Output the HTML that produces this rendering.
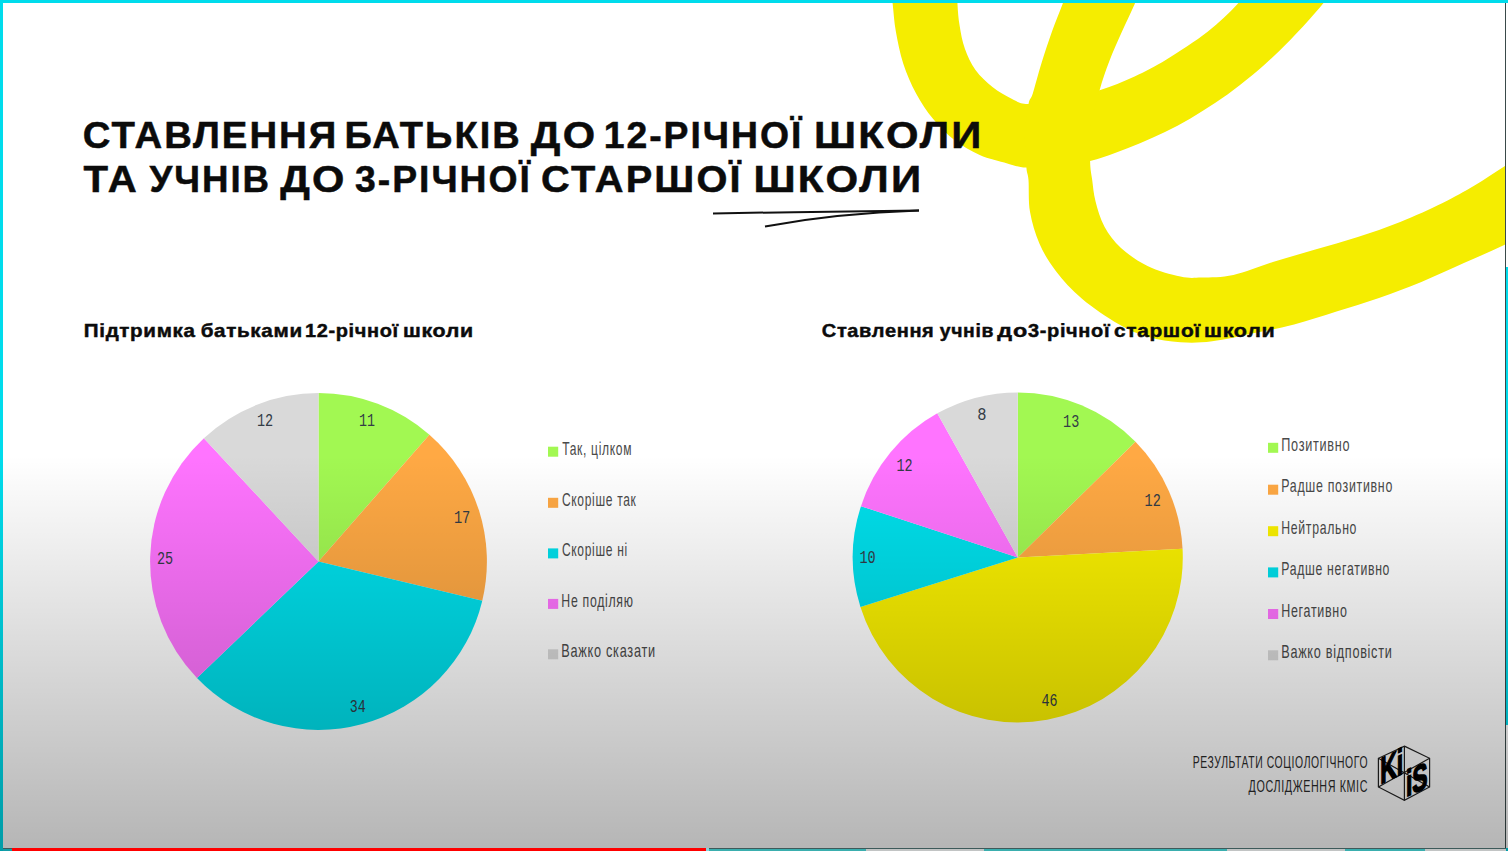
<!DOCTYPE html>
<html><head><meta charset="utf-8">
<style>
html,body{margin:0;padding:0;width:1508px;height:851px;overflow:hidden;background:#00dcec;position:relative;font-family:"Liberation Sans",sans-serif;}
#slide{position:absolute;left:3px;top:3px;width:1502px;height:845px;background:#fff;overflow:hidden;}
svg{position:absolute;left:0;top:0;}
#overlay{position:absolute;left:0;top:0;width:1508px;height:851px;background:linear-gradient(to bottom, rgba(0,0,0,0) 0px, rgba(0,0,0,0) 455px, rgba(0,0,0,0.29) 851px);}
.bar{position:absolute;top:848px;height:3px;}
</style></head><body>
<div id="slide">
<svg width="1508" height="851" viewBox="3 3 1508 851" style="left:0;top:0">
<path d="M888.0,-60.0 C876.8,-53.3 889.2,-30.7 890.0,-20.0 C890.8,-9.3 891.7,-4.4 892.7,4.2 C893.7,12.8 894.1,21.9 895.9,31.8 C897.7,41.7 899.9,53.4 903.3,63.7 C906.7,74.0 911.1,84.2 916.1,93.4 C921.1,102.6 926.6,111.0 933.0,118.8 C939.4,126.6 946.5,134.0 954.3,140.0 C962.1,146.0 970.9,151.1 979.7,155.0 C988.5,158.9 999.5,161.3 1007.3,163.4 C1015.1,165.5 1018.0,167.2 1026.4,167.6 C1034.9,168.0 1047.4,167.1 1058.0,166.0 C1068.6,164.9 1080.6,163.2 1090.1,161.0 C1099.6,158.8 1106.7,155.8 1115.0,152.9 C1123.3,150.0 1131.7,146.8 1140.0,143.3 C1148.3,139.8 1156.7,136.1 1165.0,132.0 C1173.3,127.9 1181.7,123.5 1190.0,118.7 C1198.3,113.9 1206.7,108.7 1215.0,103.1 C1223.3,97.5 1231.7,91.5 1240.0,85.0 C1248.3,78.5 1256.7,71.7 1265.0,64.2 C1273.3,56.7 1281.7,48.7 1290.0,40.2 C1298.3,31.7 1307.5,21.6 1315.0,13.0 C1322.5,4.4 1328.3,-2.6 1335.0,-11.4 C1341.7,-20.2 1349.2,-31.9 1355.0,-40.0 C1360.8,-48.1 1382.5,-56.7 1370.0,-60.0 C1357.5,-63.3 1299.0,-66.7 1280.0,-60.0 C1261.0,-53.3 1263.1,-30.7 1256.0,-20.0 C1248.9,-9.3 1245.4,-4.4 1237.3,4.2 C1229.2,12.8 1219.4,22.6 1207.6,31.8 C1195.8,41.0 1178.7,52.0 1166.5,59.4 C1154.3,66.8 1145.8,71.3 1134.6,76.4 C1123.4,81.5 1111.4,86.6 1099.6,90.2 C1087.8,93.8 1075.8,95.7 1064.0,98.0 C1052.2,100.3 1037.2,103.9 1028.5,104.0 C1019.8,104.1 1017.6,101.5 1011.6,98.7 C1005.6,95.9 998.5,91.8 992.5,87.0 C986.5,82.2 980.1,76.4 975.5,70.0 C970.9,63.6 967.5,56.2 964.9,48.8 C962.2,41.4 960.8,32.9 959.6,25.5 C958.4,18.1 957.9,11.8 957.5,4.2 C957.1,-3.4 957.1,-9.3 957.0,-20.0 C956.9,-30.7 968.5,-53.3 957.0,-60.0 C945.5,-66.7 899.2,-66.7 888.0,-60.0 Z" fill="#f5ed00"/>
<path d="M1085.0,-60.0 C1070.2,-53.3 1074.8,-30.7 1071.0,-20.0 C1067.2,-9.3 1065.7,-4.4 1062.5,4.2 C1059.3,12.8 1055.4,21.9 1051.9,31.8 C1048.4,41.7 1044.5,53.4 1041.3,63.7 C1038.1,74.0 1034.9,86.7 1032.8,93.4 C1030.7,100.1 1029.8,97.1 1028.5,104.0 C1027.2,110.9 1025.3,124.4 1025.0,135.0 C1024.7,145.6 1025.8,160.1 1026.4,167.6 C1027.0,175.1 1027.9,172.6 1028.5,180.0 C1029.1,187.4 1028.2,201.2 1030.0,211.8 C1031.8,222.4 1035.2,233.8 1039.5,243.7 C1043.8,253.6 1048.9,262.0 1056.0,271.2 C1063.1,280.4 1071.5,289.9 1082.0,298.8 C1092.5,307.7 1107.7,317.9 1118.8,324.3 C1129.9,330.7 1138.2,334.0 1148.5,337.0 C1158.8,340.0 1169.8,341.6 1180.4,342.3 C1191.0,343.0 1199.8,342.9 1212.2,341.3 C1224.6,339.8 1240.9,335.8 1254.6,333.0 C1268.2,330.2 1280.4,328.1 1294.1,324.5 C1307.8,320.9 1322.3,315.9 1336.5,311.5 C1350.7,307.1 1364.8,302.9 1379.0,298.0 C1393.2,293.1 1407.2,287.8 1421.4,282.0 C1435.6,276.2 1450.1,269.3 1463.9,263.1 C1477.7,256.9 1491.5,251.2 1504.2,245.0 C1516.9,238.8 1527.4,233.5 1540.0,226.0 C1552.6,218.5 1573.3,218.0 1580.0,200.0 C1586.7,182.0 1586.7,127.2 1580.0,118.0 C1573.3,108.8 1552.6,136.9 1540.0,145.0 C1527.4,153.1 1515.1,159.7 1504.2,166.5 C1493.3,173.3 1484.8,179.5 1474.5,185.6 C1464.2,191.7 1455.0,196.9 1442.6,203.0 C1430.2,209.1 1414.3,216.3 1400.2,222.0 C1386.1,227.7 1372.0,232.4 1357.8,237.0 C1343.6,241.6 1329.4,245.3 1315.3,249.5 C1301.2,253.7 1286.6,257.8 1272.9,262.0 C1259.2,266.2 1245.3,272.4 1233.4,275.0 C1221.5,277.6 1210.4,277.3 1201.6,277.6 C1192.8,277.9 1189.4,278.5 1180.4,276.6 C1171.4,274.7 1157.4,270.8 1147.5,266.0 C1137.6,261.2 1128.2,254.5 1121.0,247.9 C1113.8,241.3 1108.8,234.5 1104.5,226.7 C1100.2,218.9 1097.5,209.0 1095.5,201.2 C1093.5,193.4 1093.1,186.7 1092.2,180.0 C1091.3,173.3 1090.3,170.5 1090.1,161.3 C1089.9,152.1 1089.4,136.8 1091.0,125.0 C1092.6,113.2 1096.6,100.8 1099.6,90.2 C1102.6,79.6 1105.5,71.2 1109.2,61.5 C1112.9,51.8 1117.7,41.4 1121.9,31.8 C1126.1,22.2 1130.9,12.8 1134.6,4.2 C1138.3,-4.4 1139.8,-9.3 1144.0,-20.0 C1148.2,-30.7 1169.8,-53.3 1160.0,-60.0 C1150.2,-66.7 1099.8,-66.7 1085.0,-60.0 Z" fill="#f5ed00"/>
</svg>
</div>
<svg width="1508" height="851" font-family="Liberation Sans">
<path d="M713,213.4 C780,212.3 860,211.2 919,210.6" stroke="#111" stroke-width="2" fill="none"/>
<path d="M765,226.4 C820,216.5 870,212.2 919,210.6" stroke="#111" stroke-width="2" fill="none"/>
<path d="M318.50,561.50 L318.50,393.10 A168.40,168.40 0 0 1 429.42,434.79 Z" fill="#a2f852"/>
<path d="M318.50,561.50 L429.42,434.79 A168.40,168.40 0 0 1 482.28,600.67 Z" fill="#ffa944"/>
<path d="M318.50,561.50 L482.28,600.67 A168.40,168.40 0 0 1 196.96,678.06 Z" fill="#00e0ec"/>
<path d="M318.50,561.50 L196.96,678.06 A168.40,168.40 0 0 1 203.87,438.14 Z" fill="#ff74ff"/>
<path d="M318.50,561.50 L203.87,438.14 A168.40,168.40 0 0 1 318.50,393.10 Z" fill="#d9d9d9"/>
<path d="M1017.80,557.40 L1017.80,392.40 A165.00,165.00 0 0 1 1135.49,441.75 Z" fill="#a2f852"/>
<path d="M1017.80,557.40 L1135.49,441.75 A165.00,165.00 0 0 1 1182.57,548.76 Z" fill="#ffa944"/>
<path d="M1017.80,557.40 L1182.57,548.76 A165.00,165.00 0 0 1 860.44,607.02 Z" fill="#faf100"/>
<path d="M1017.80,557.40 L860.44,607.02 A165.00,165.00 0 0 1 860.96,506.14 Z" fill="#00e0ec"/>
<path d="M1017.80,557.40 L860.96,506.14 A165.00,165.00 0 0 1 937.30,413.37 Z" fill="#ff74ff"/>
<path d="M1017.80,557.40 L937.30,413.37 A165.00,165.00 0 0 1 1017.80,392.40 Z" fill="#d9d9d9"/>
<rect x="548.0" y="446.7" width="10.2" height="10" fill="#a2f852"/>
<rect x="548.0" y="497.8" width="10.2" height="10" fill="#ffa944"/>
<rect x="548.0" y="548.4" width="10.2" height="10" fill="#00e0ec"/>
<rect x="548.0" y="598.9" width="10.2" height="10" fill="#ff74ff"/>
<rect x="548.0" y="649.3" width="10.2" height="10" fill="#d9d9d9"/>
<rect x="1268.0" y="442.8" width="10.2" height="10" fill="#a2f852"/>
<rect x="1268.0" y="484.7" width="10.2" height="10" fill="#ffa944"/>
<rect x="1268.0" y="526.2" width="10.2" height="10" fill="#faf100"/>
<rect x="1268.0" y="567.4" width="10.2" height="10" fill="#00e0ec"/>
<rect x="1268.0" y="609.0" width="10.2" height="10" fill="#ff74ff"/>
<rect x="1268.0" y="650.3" width="10.2" height="10" fill="#d9d9d9"/>
<g stroke="#222" stroke-width="1.2" fill="none">
<path d="M1404.4,746.1 L1429.6,758.3 L1429.6,787 L1404.4,800.4 L1378.4,787 L1378.4,758.3 Z"/>
<path d="M1404.4,746.1 L1404.4,800.4 M1378.4,758.3 L1429.6,787 M1429.6,758.3 L1378.4,787"/>
</g>
<g transform="translate(1378.4,787) skewY(-25) translate(1.9,-1.8) scale(0.62,1)"><text font-weight="bold" font-size="37" fill="#000" stroke="#000" stroke-width="1.6">Ki</text></g>
<g transform="translate(1404.4,800.4) skewY(-25) translate(1.5,-2.6) scale(0.62,1)"><text font-weight="bold" font-size="37" fill="#000" stroke="#000" stroke-width="1.6">iS</text></g>
<text transform="translate(82.78,147.80) scale(1.0136,1)" font-family="Liberation Sans" font-weight="bold" font-size="37.8" letter-spacing="2.0" fill="#0b0b0b" stroke="#0b0b0b" stroke-width="0.5">СТАВЛЕННЯ</text>
<text transform="translate(344.39,147.80) scale(1.0059,1)" font-family="Liberation Sans" font-weight="bold" font-size="37.8" letter-spacing="2.0" fill="#0b0b0b" stroke="#0b0b0b" stroke-width="0.5">БАТЬКІВ</text>
<text transform="translate(530.82,147.80) scale(1.1009,1)" font-family="Liberation Sans" font-weight="bold" font-size="37.8" letter-spacing="2.0" fill="#0b0b0b" stroke="#0b0b0b" stroke-width="0.5">ДО</text>
<text transform="translate(603.67,147.80) scale(0.9889,1)" font-family="Liberation Sans" font-weight="bold" font-size="37.8" letter-spacing="2.0" fill="#0b0b0b" stroke="#0b0b0b" stroke-width="0.5">12-РІЧНОЇ</text>
<text transform="translate(814.03,147.80) scale(1.1063,1)" font-family="Liberation Sans" font-weight="bold" font-size="37.8" letter-spacing="2.0" fill="#0b0b0b" stroke="#0b0b0b" stroke-width="0.5">ШКОЛИ</text>
<text transform="translate(83.57,191.50) scale(1.0639,1)" font-family="Liberation Sans" font-weight="bold" font-size="37.8" letter-spacing="2.0" fill="#0b0b0b" stroke="#0b0b0b" stroke-width="0.5">ТА</text>
<text transform="translate(149.60,191.50) scale(0.9704,1)" font-family="Liberation Sans" font-weight="bold" font-size="37.8" letter-spacing="2.0" fill="#0b0b0b" stroke="#0b0b0b" stroke-width="0.5">УЧНІВ</text>
<text transform="translate(280.22,191.50) scale(1.1009,1)" font-family="Liberation Sans" font-weight="bold" font-size="37.8" letter-spacing="2.0" fill="#0b0b0b" stroke="#0b0b0b" stroke-width="0.5">ДО</text>
<text transform="translate(355.06,191.50) scale(0.9876,1)" font-family="Liberation Sans" font-weight="bold" font-size="37.8" letter-spacing="2.0" fill="#0b0b0b" stroke="#0b0b0b" stroke-width="0.5">3-РІЧНОЇ</text>
<text transform="translate(541.12,191.50) scale(1.0527,1)" font-family="Liberation Sans" font-weight="bold" font-size="37.8" letter-spacing="2.0" fill="#0b0b0b" stroke="#0b0b0b" stroke-width="0.5">СТАРШОЇ</text>
<text transform="translate(753.43,191.50) scale(1.1097,1)" font-family="Liberation Sans" font-weight="bold" font-size="37.8" letter-spacing="2.0" fill="#0b0b0b" stroke="#0b0b0b" stroke-width="0.5">ШКОЛИ</text>
<text transform="translate(83.82,336.80) scale(1.1063,1)" font-family="Liberation Sans" font-weight="bold" font-size="18.6" letter-spacing="0.6" fill="#0b0b0b" stroke="#0b0b0b" stroke-width="0.45">Підтримка</text>
<text transform="translate(200.67,336.80) scale(1.1104,1)" font-family="Liberation Sans" font-weight="bold" font-size="18.6" letter-spacing="0.6" fill="#0b0b0b" stroke="#0b0b0b" stroke-width="0.45">батьками</text>
<text transform="translate(304.96,336.80) scale(1.0744,1)" font-family="Liberation Sans" font-weight="bold" font-size="18.6" letter-spacing="0.6" fill="#0b0b0b" stroke="#0b0b0b" stroke-width="0.45">12-річної</text>
<text transform="translate(402.96,336.80) scale(1.1504,1)" font-family="Liberation Sans" font-weight="bold" font-size="18.6" letter-spacing="0.6" fill="#0b0b0b" stroke="#0b0b0b" stroke-width="0.45">школи</text>
<text transform="translate(821.79,336.80) scale(1.0765,1)" font-family="Liberation Sans" font-weight="bold" font-size="18.6" letter-spacing="0.6" fill="#0b0b0b" stroke="#0b0b0b" stroke-width="0.45">Ставлення</text>
<text transform="translate(939.74,336.80) scale(1.0436,1)" font-family="Liberation Sans" font-weight="bold" font-size="18.6" letter-spacing="0.6" fill="#0b0b0b" stroke="#0b0b0b" stroke-width="0.45">учнів</text>
<text transform="translate(997.30,336.80) scale(1.2565,1)" font-family="Liberation Sans" font-weight="bold" font-size="18.6" letter-spacing="0.6" fill="#0b0b0b" stroke="#0b0b0b" stroke-width="0.45">до</text>
<text transform="translate(1027.96,336.80) scale(1.0759,1)" font-family="Liberation Sans" font-weight="bold" font-size="18.6" letter-spacing="0.6" fill="#0b0b0b" stroke="#0b0b0b" stroke-width="0.45">3-річної</text>
<text transform="translate(1113.96,336.80) scale(1.1229,1)" font-family="Liberation Sans" font-weight="bold" font-size="18.6" letter-spacing="0.6" fill="#0b0b0b" stroke="#0b0b0b" stroke-width="0.45">старшої</text>
<text transform="translate(1204.05,336.80) scale(1.1573,1)" font-family="Liberation Sans" font-weight="bold" font-size="18.6" letter-spacing="0.6" fill="#0b0b0b" stroke="#0b0b0b" stroke-width="0.45">школи</text>
<text transform="translate(562.23,454.70) scale(0.6813,1)" font-family="Liberation Sans" font-weight="normal" font-size="17.7" letter-spacing="1.0" fill="#4a4a4a">Так, цілком</text>
<text transform="translate(561.89,505.50) scale(0.6806,1)" font-family="Liberation Sans" font-weight="normal" font-size="17.7" letter-spacing="1.0" fill="#4a4a4a">Скоріше так</text>
<text transform="translate(561.89,555.60) scale(0.6798,1)" font-family="Liberation Sans" font-weight="normal" font-size="17.7" letter-spacing="1.0" fill="#4a4a4a">Скоріше ні</text>
<text transform="translate(561.36,606.80) scale(0.6948,1)" font-family="Liberation Sans" font-weight="normal" font-size="17.7" letter-spacing="1.0" fill="#4a4a4a">Не поділяю</text>
<text transform="translate(561.32,657.20) scale(0.7194,1)" font-family="Liberation Sans" font-weight="normal" font-size="17.7" letter-spacing="1.0" fill="#4a4a4a">Важко сказати</text>
<text transform="translate(1281.22,451.00) scale(0.7174,1)" font-family="Liberation Sans" font-weight="normal" font-size="17.7" letter-spacing="1.0" fill="#4a4a4a">Позитивно</text>
<text transform="translate(1281.25,492.20) scale(0.7008,1)" font-family="Liberation Sans" font-weight="normal" font-size="17.7" letter-spacing="1.0" fill="#4a4a4a">Радше позитивно</text>
<text transform="translate(1281.26,534.00) scale(0.6936,1)" font-family="Liberation Sans" font-weight="normal" font-size="17.7" letter-spacing="1.0" fill="#4a4a4a">Нейтрально</text>
<text transform="translate(1281.26,575.00) scale(0.6917,1)" font-family="Liberation Sans" font-weight="normal" font-size="17.7" letter-spacing="1.0" fill="#4a4a4a">Радше негативно</text>
<text transform="translate(1281.24,616.50) scale(0.7055,1)" font-family="Liberation Sans" font-weight="normal" font-size="17.7" letter-spacing="1.0" fill="#4a4a4a">Негативно</text>
<text transform="translate(1281.23,657.70) scale(0.7163,1)" font-family="Liberation Sans" font-weight="normal" font-size="17.7" letter-spacing="1.0" fill="#4a4a4a">Важко відповісти</text>
<text transform="translate(1192.70,768.30) scale(0.5974,1)" font-family="Liberation Sans" font-weight="normal" font-size="17.4" letter-spacing="1.0" fill="#2a2a2a">РЕЗУЛЬТАТИ СОЦІОЛОГІЧНОГО</text>
<text transform="translate(1248.60,791.60) scale(0.6175,1)" font-family="Liberation Sans" font-weight="normal" font-size="17.4" letter-spacing="1.0" fill="#2a2a2a">ДОСЛІДЖЕННЯ КМІС</text>
<text transform="translate(358.91,425.90) scale(0.7111,1)" font-family="Liberation Mono" font-weight="normal" font-size="18.75" fill="#333c46">11</text>
<text transform="translate(453.89,522.80) scale(0.7291,1)" font-family="Liberation Mono" font-weight="normal" font-size="18.75" fill="#333c46">17</text>
<text transform="translate(349.71,712.10) scale(0.7111,1)" font-family="Liberation Mono" font-weight="normal" font-size="18.75" fill="#333c46">34</text>
<text transform="translate(156.90,563.80) scale(0.7200,1)" font-family="Liberation Mono" font-weight="normal" font-size="18.75" fill="#333c46">25</text>
<text transform="translate(257.00,426.30) scale(0.7200,1)" font-family="Liberation Mono" font-weight="normal" font-size="18.75" fill="#333c46">12</text>
<text transform="translate(1063.10,427.30) scale(0.7200,1)" font-family="Liberation Mono" font-weight="normal" font-size="18.75" fill="#333c46">13</text>
<text transform="translate(1144.60,505.50) scale(0.7200,1)" font-family="Liberation Mono" font-weight="normal" font-size="18.75" fill="#333c46">12</text>
<text transform="translate(1041.49,706.20) scale(0.7111,1)" font-family="Liberation Mono" font-weight="normal" font-size="18.75" fill="#333c46">46</text>
<text transform="translate(859.50,563.10) scale(0.7200,1)" font-family="Liberation Mono" font-weight="normal" font-size="18.75" fill="#333c46">10</text>
<text transform="translate(896.50,470.50) scale(0.7200,1)" font-family="Liberation Mono" font-weight="normal" font-size="18.75" fill="#333c46">12</text>
<text transform="translate(977.37,419.90) scale(0.8229,1)" font-family="Liberation Mono" font-weight="normal" font-size="18.75" fill="#333c46">8</text>
</svg>
<div style="position:absolute;left:1505px;top:3px;width:1px;height:845px;background:#3a4a4a"></div>

<div style="position:absolute;left:1506px;top:3px;width:2px;height:264px;background:#fff"></div>
<div style="position:absolute;left:1506px;top:725px;width:2px;height:123px;background:#fff"></div>
<div id="overlay"></div>
<div class="bar" style="left:3px;top:849px;height:2px;width:1503px;background:#c2c4c4"></div>
<div class="bar" style="left:3px;top:848px;height:1px;width:1503px;background:#3e5a5a"></div>
<div class="bar" style="left:3px;top:849px;height:2px;width:9px;background:#139ca6"></div>
<div class="bar" style="left:709px;top:849px;height:2px;width:157px;background:#3aaeae"></div>
<div class="bar" style="left:984px;top:849px;height:2px;width:243px;background:#3aaeae"></div>
<div class="bar" style="left:1345px;top:849px;height:2px;width:80px;background:#3aaeae"></div>
<div class="bar" style="left:706px;top:848px;height:3px;width:3px;background:#8fd0d8"></div>
<div class="bar" style="left:12px;top:848px;height:3px;width:694px;background:#ff0000"></div>
</body></html>
